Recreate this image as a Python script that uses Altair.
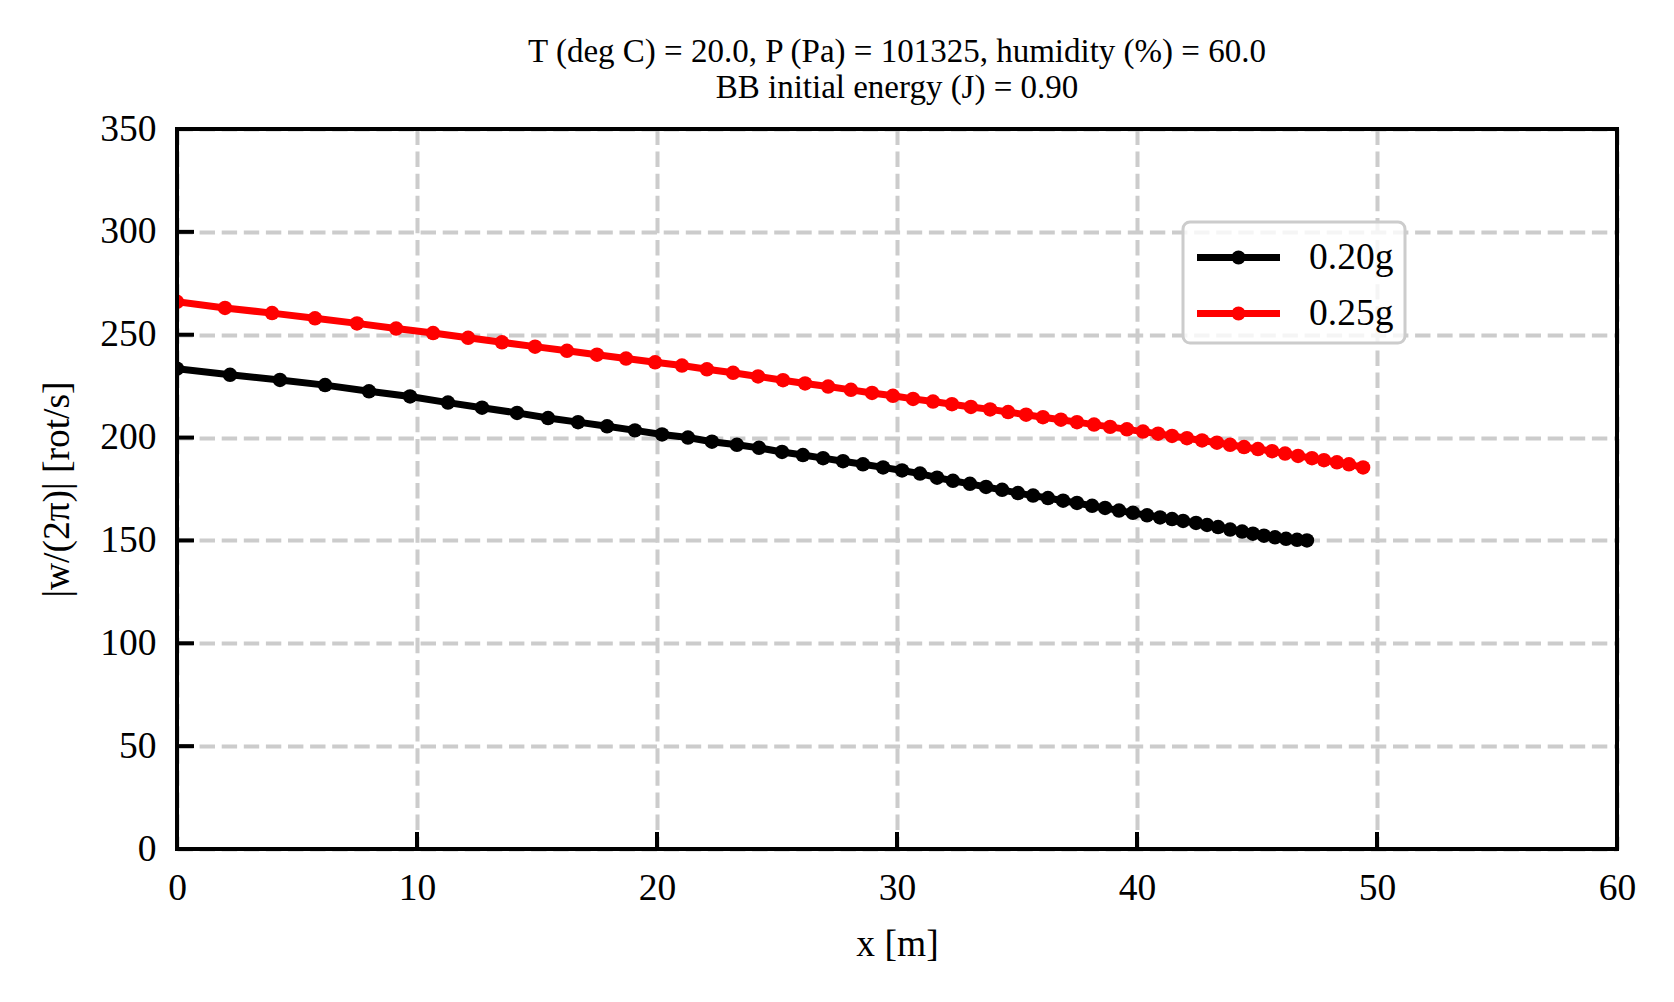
import altair as alt
import pandas as pd

# ---- data ----
series_names = ["0.20g", "0.25g"]
series_colors = ["#000000", "#ff0000"]

x_020 = [0.0, 2.21, 4.29, 6.17, 8.0, 9.71, 11.29, 12.71, 14.17, 15.46, 16.71, 17.92,
         19.08, 20.21, 21.29, 22.29, 23.33, 24.25, 25.21, 26.08, 26.92, 27.75, 28.58,
         29.42, 30.21, 30.96, 31.67, 32.33, 33.04, 33.71, 34.38, 35.04, 35.67, 36.29,
         36.92, 37.5, 38.13, 38.67, 39.25, 39.83, 40.42, 40.96, 41.46, 41.92, 42.46,
         42.92, 43.38, 43.88, 44.38, 44.83, 45.29, 45.75, 46.21, 46.67, 47.08]
w_020 = [233.5, 230.5, 228.0, 225.5, 222.5, 220.0, 217.0, 214.5, 212.0, 209.5, 207.5,
         205.5, 203.5, 201.5, 200.0, 198.0, 196.5, 195.0, 193.0, 191.5, 190.0, 188.5,
         187.0, 185.5, 184.0, 182.5, 180.5, 179.0, 177.5, 176.0, 174.6, 173.0, 171.8,
         170.6, 169.3, 168.2, 166.8, 165.8, 164.5, 163.4, 162.2, 161.2, 160.4, 159.5,
         158.5, 157.5, 156.5, 155.3, 154.3, 153.3, 152.3, 151.5, 150.8, 150.3, 150.0]

x_025 = [0.0, 2.0, 3.96, 5.75, 7.5, 9.13, 10.67, 12.13, 13.54, 14.92, 16.25, 17.5,
         18.71, 19.92, 21.04, 22.08, 23.17, 24.21, 25.25, 26.17, 27.13, 28.08, 28.96,
         29.83, 30.67, 31.5, 32.29, 33.08, 33.88, 34.63, 35.38, 36.08, 36.83, 37.5,
         38.21, 38.88, 39.58, 40.25, 40.88, 41.46, 42.08, 42.71, 43.33, 43.88, 44.46,
         45.04, 45.63, 46.17, 46.71, 47.29, 47.79, 48.33, 48.83, 49.42]
w_025 = [266.0, 263.0, 260.5, 258.0, 255.5, 253.0, 250.8, 248.5, 246.3, 244.2, 242.2,
         240.3, 238.4, 236.6, 235.0, 233.2, 231.5, 229.7, 227.9, 226.3, 224.8, 223.2,
         221.7, 220.3, 218.8, 217.5, 216.2, 214.9, 213.7, 212.4, 211.1, 209.9, 208.7,
         207.5, 206.3, 205.2, 204.0, 202.9, 201.9, 200.8, 199.7, 198.6, 197.5, 196.5,
         195.4, 194.4, 193.4, 192.2, 191.1, 190.0, 189.0, 188.0, 187.0, 185.5]

x_ticks = [0, 10, 20, 30, 40, 50, 60]
y_ticks = [0, 50, 100, 150, 200, 250, 300, 350]

title_lines = ["T (deg C) = 20.0, P (Pa) = 101325, humidity (%) = 60.0",
               "BB initial energy (J) = 0.90"]

# ---- build table ----
df = pd.concat([
    pd.DataFrame({"x": x_020, "w": w_020, "mass": series_names[0]}),
    pd.DataFrame({"x": x_025, "w": w_025, "mass": series_names[1]}),
], ignore_index=True)

W, H = 1440, 720
FONT = "Liberation Serif"
FS = 37.5

xscale = alt.Scale(domain=[0, 60], nice=False, zero=False)
yscale = alt.Scale(domain=[0, 350], nice=False)

axis_common = dict(
    grid=True, gridColor="#cccccc", gridWidth=4, gridDash=[15.4, 6.7],
    ticks=False, domain=False, labelFont=FONT, labelFontSize=FS,
    labelColor="black", titleFont=FONT, titleFontSize=FS,
    titleFontWeight="normal", titleColor="black", labelFlush=False,
)
xaxis = alt.Axis(values=x_ticks, title="x [m]", labelPadding=20,
                 titlePadding=19, **axis_common)
yaxis = alt.Axis(values=y_ticks, title="|w/(2π)| [rot/s]", labelPadding=21,
                 titlePadding=23, **axis_common)

# legend symbol: a line with a dot in the middle
legend_symbol = ("M-2,0L2,0M0,-0.17A0.17,0.17,0,1,1,0,0.17"
                 "A0.17,0.17,0,1,1,0,-0.17Z")

lines = alt.Chart(df).mark_line(
    strokeWidth=7, clip=True,
    point=alt.OverlayMarkDef(filled=True, size=210, clip=True, opacity=1),
).encode(
    x=alt.X("x:Q", scale=xscale, axis=xaxis),
    y=alt.Y("w:Q", scale=yscale, axis=yaxis),
    color=alt.Color("mass:N", scale=alt.Scale(domain=series_names, range=series_colors),
                    legend=alt.Legend(
                        title=None, orient="none", legendX=1006, legendY=93,
                        symbolType=legend_symbol, symbolSize=41.5 * 41.5,
                        symbolStrokeWidth=7, symbolOffset=20,
                        labelFont=FONT, labelFontSize=FS,
                        labelColor="black", labelOffset=46, padding=11,
                        rowPadding=13, strokeColor="#cccccc",
                        fillColor="rgba(255,255,255,0.8)", cornerRadius=7,
                    )),
)

xtick_layer = alt.Chart(pd.DataFrame({"x": x_ticks})).mark_rule(
    color="black", strokeWidth=4).encode(
    x=alt.X("x:Q", scale=xscale, axis=xaxis),
    y=alt.value(H), y2=alt.value(H - 17))

ytick_layer = alt.Chart(pd.DataFrame({"w": y_ticks})).mark_rule(
    color="black", strokeWidth=4).encode(
    y=alt.Y("w:Q", scale=yscale, axis=yaxis),
    x=alt.value(0), x2=alt.value(17))

frame = alt.Chart(pd.DataFrame({"f": [0]})).mark_rect(
    filled=False, stroke="black", strokeWidth=4).encode(
    x=alt.value(0), x2=alt.value(W), y=alt.value(0), y2=alt.value(H))

chart = alt.layer(lines, xtick_layer, ytick_layer, frame).properties(
    width=W, height=H,
    title=alt.TitleParams(text=title_lines, font=FONT, fontSize=33,
                          fontWeight="normal", color="black", anchor="middle",
                          lineHeight=36, offset=5),
    autosize=alt.AutoSizeParams(type="none"),
    padding={"left": 177, "top": 129, "right": 57, "bottom": 153},
).configure_view(stroke=None).configure_legend(strokeWidth=3)

chart.save("out.html", embed_options={"renderer": "svg", "actions": False})
